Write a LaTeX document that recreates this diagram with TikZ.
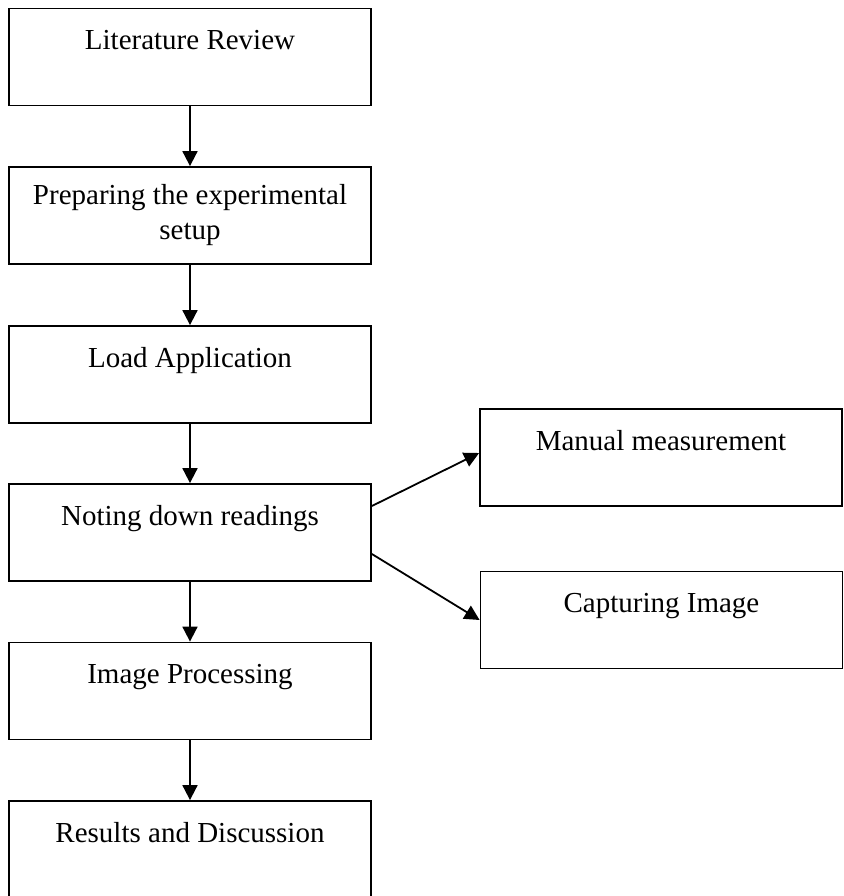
\documentclass[tikz,border=0pt]{standalone}
\usepackage{fontspec}
\setmainfont{Liberation Serif}
\usetikzlibrary{arrows.meta}

\begin{document}
\begin{tikzpicture}[x=0.5pt, y=-0.5pt,
box L/.style = {rectangle, draw, line width=0.9pt,
     minimum width=181pt, minimum height=48.5pt,
     inner sep=0pt, align=center,
     font=\fontsize{14.5}{17.5}\selectfont},
arr/.style = {line width=0.9pt,
     -{Triangle[length=7.5pt,width=7.5pt]}}]

\useasboundingbox (0,0) rectangle (844,896);
\node [box L] (lit) at (190,57) {Literature Review\\\mbox{}};
\node [box L] (prep) at (190,215.5) {Preparing the experimental\\setup};
\node [box L] (load) at (190,374.5) {Load Application\\\mbox{}};
\node [box L] (note) at (190,532.5) {Noting down readings\\\mbox{}};
\node [box L] (img) at (190,691) {Image Processing\\\mbox{}};
\node [box L] (res) at (190,849.5) {Results and Discussion\\\mbox{}};
\node [box L] (man) at (661,457.5) {Manual measurement\\\mbox{}};
\node [box L] (capt) at (661.5,620) {Capturing Image\\\mbox{}};

\foreach \a/\b in {lit/prep, prep/load, load/note, note/img, img/res} {
      \draw [arr] (\a) -- (\b);
    }
    \draw [arr] ([yshift=13.25pt]note.east) -- ([yshift=2.25pt]man.west);
    \draw [arr] ([yshift=-10.75pt]note.east) -- (capt.west);

\end{tikzpicture}
\end{document}
